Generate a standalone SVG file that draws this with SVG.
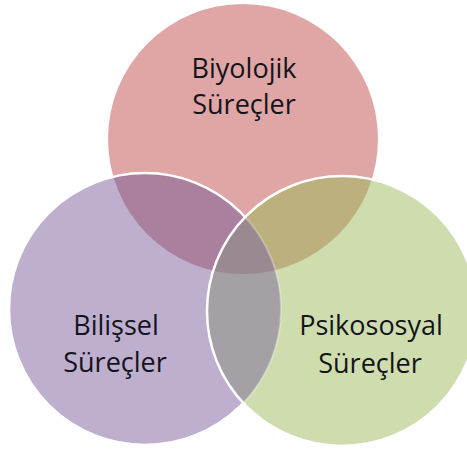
<svg xmlns="http://www.w3.org/2000/svg" width="467" height="449" viewBox="0 0 467 449">
<style>
.lbl{font-family:"Open Sans","Noto Sans","Liberation Sans",sans-serif;font-size:27px;fill:#14141c;text-anchor:middle}
.edge{fill:none;stroke:#ffffff;stroke-width:2.5}
</style>
<defs>
<clipPath id="cTop"><circle cx="243" cy="139" r="135"/></clipPath>
<clipPath id="cLeft"><circle cx="145" cy="309" r="136"/></clipPath>
<clipPath id="cRight"><circle cx="342" cy="311" r="135"/></clipPath>
</defs>
<rect width="467" height="449" fill="#ffffff"/>
<g id="biyolojik">
<circle cx="243" cy="139" r="135" fill="#DFA6A5"/>
</g>
<g id="bilissel">
<circle cx="145" cy="309" r="136" fill="#BEAFCF"/>
<circle cx="145" cy="309" r="136" fill="#AB809E" clip-path="url(#cTop)"/>
<circle class="edge" cx="145" cy="309" r="136"/>
</g>
<g id="psikososyal">
<circle cx="342" cy="311" r="135" fill="#CFDDAE"/>
<circle cx="342" cy="311" r="135" fill="#BCB17E" clip-path="url(#cTop)"/>
<circle cx="342" cy="311" r="135" fill="#A59FA6" clip-path="url(#cLeft)"/>
<g clip-path="url(#cTop)">
<circle cx="342" cy="311" r="135" fill="#9A8990" clip-path="url(#cLeft)"/>
</g>
<circle cx="145" cy="309" r="136" fill="none" stroke="#ffffff" stroke-opacity="0.3" stroke-width="2" clip-path="url(#cRight)"/>
<circle class="edge" cx="342" cy="311" r="135"/>
</g>
<g id="labels">
<text class="lbl" x="244" y="78">Biyolojik</text>
<text class="lbl" x="244" y="114">Süreçler</text>
<text class="lbl" x="116" y="335">Bilişsel</text>
<text class="lbl" x="115" y="372">Süreçler</text>
<text class="lbl" x="371" y="335">Psikososyal</text>
<text class="lbl" x="370" y="373">Süreçler</text>
</g>
<g id="connectors"></g>
</svg>
